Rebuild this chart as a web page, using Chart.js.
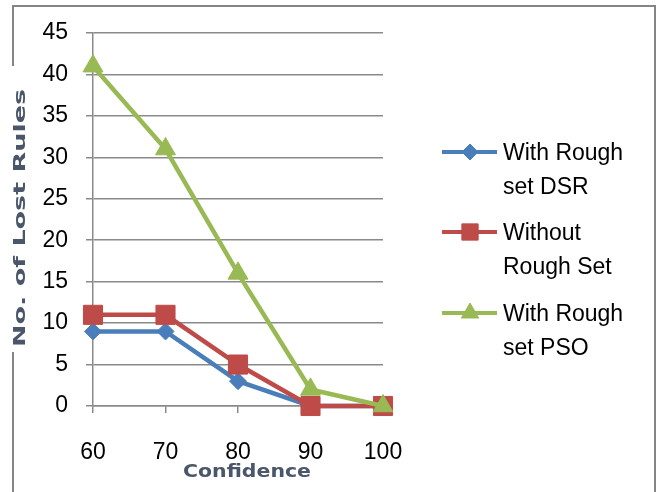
<!DOCTYPE html>
<html><head><meta charset="utf-8">
<script src="https://cdn.jsdelivr.net/npm/chart.js@4/dist/chart.umd.min.js"></script>
<style>html,body{margin:0;padding:0;background:#fff;}#wrap{width:662px;height:492px;}</style>
</head><body><div id="wrap"><canvas id="c" width="662" height="492"></canvas></div>
<script>
const categories = ['60', '70', '80', '90', '100'];
const dsrValues = [9, 9, 3, 0, 0];
const withoutRoughValues = [11, 11, 5, 0, 0];
const psoValues = [41, 31, 16, 2, 0];
const seriesLabels = ['With Rough set DSR', 'Without Rough Set', 'With Rough set PSO'];
const legendLines = [['With Rough', 'set DSR'], ['Without', 'Rough Set'], ['With Rough', 'set PSO']];
const yMin = 0, yMax = 45, yStep = 5;
const xTitle = 'Confidence';
const yTitle = 'No. of Lost Rules';

const BLUE = '#4A7EBB', RED = '#BE4B48', GREEN = '#98B954';
const GRID = '#8a8a8a';

function drawMarker(ctx, style, x, y, r, color) {
  ctx.fillStyle = color; ctx.strokeStyle = color; ctx.lineWidth = 1;
  ctx.beginPath();
  if (style === 'rectRot') {
    ctx.moveTo(x, y - r); ctx.lineTo(x + r, y); ctx.lineTo(x, y + r); ctx.lineTo(x - r, y);
  } else if (style === 'rect') {
    const s = Math.SQRT1_2 * r; ctx.rect(x - s, y - s, 2 * s, 2 * s);
  } else {
    for (let i = 0; i < 3; i++) {
      const a = i * 2 * Math.PI / 3;
      const px = x + Math.sin(a) * r, py = y - Math.cos(a) * r;
      if (i === 0) ctx.moveTo(px, py); else ctx.lineTo(px, py);
    }
  }
  ctx.closePath(); ctx.fill(); ctx.stroke();
}

const decor = {
  id: 'decor',
  beforeDraw(chart) {
    const ctx = chart.ctx;
    ctx.save();
    ctx.fillStyle = '#fff'; ctx.fillRect(0, 0, chart.width, chart.height);
    ctx.strokeStyle = '#858585'; ctx.lineWidth = 2;
    ctx.beginPath();
    ctx.moveTo(13, 66); ctx.lineTo(13, 6); ctx.lineTo(655, 6); ctx.lineTo(655, 492);
    ctx.moveTo(13, 352); ctx.lineTo(13, 492);
    ctx.stroke();
    ctx.restore();
  },
  afterDraw(chart) {
    const ctx = chart.ctx, ca = chart.chartArea;
    ctx.save();
    ctx.fillStyle = '#4a566a';
    ctx.textAlign = 'center'; ctx.textBaseline = 'middle';
    ctx.font = 'bold 17px "DejaVu Sans"';
    let w = ctx.measureText(xTitle).width;
    ctx.save();
    ctx.translate((ca.left + ca.right) / 2 + 9, 473);
    ctx.scale(128 / w, 1);
    ctx.fillText(xTitle, 0, 0);
    ctx.restore();
    ctx.font = 'bold 16px "DejaVu Sans"';
    w = ctx.measureText(yTitle).width;
    ctx.save();
    ctx.translate(21, 218);
    ctx.rotate(-Math.PI / 2);
    ctx.scale(258 / w, 1);
    ctx.fillText(yTitle, 0, 0);
    ctx.restore();
    const ys = [152, 232, 313];
    chart.data.datasets.forEach((ds, i) => {
      const y = ys[i];
      ctx.strokeStyle = ds.borderColor; ctx.lineWidth = 4; ctx.lineCap = 'butt';
      ctx.beginPath(); ctx.moveTo(442, y); ctx.lineTo(497, y); ctx.stroke();
      drawMarker(ctx, ds.pointStyle, 470, y, ds.pointStyle === 'rect' ? 11.5 : (ds.pointStyle === 'triangle' ? 10 : 8), ds.borderColor);
      ctx.fillStyle = '#000'; ctx.textAlign = 'left'; ctx.textBaseline = 'middle';
      ctx.font = '23px "Liberation Sans"';
      legendLines[i].forEach((t, k) => ctx.fillText(t, 503, y + 2 + k * 34));
    });
    ctx.restore();
  }
};

new Chart(document.getElementById('c'), {
  type: 'line',
  data: {
    labels: categories,
    datasets: [
      { label: seriesLabels[0], data: dsrValues, borderColor: BLUE, backgroundColor: BLUE, pointBackgroundColor: BLUE, pointBorderColor: BLUE, pointStyle: 'rectRot', pointRadius: 8.5, borderWidth: 4.5, pointBorderWidth: 1, order: 2, clip: false },
      { label: seriesLabels[1], data: withoutRoughValues, borderColor: RED, backgroundColor: RED, pointBackgroundColor: RED, pointBorderColor: RED, pointStyle: 'rect', pointRadius: 13.5, borderWidth: 4.5, pointBorderWidth: 1, order: 1, clip: false },
      { label: seriesLabels[2], data: psoValues, borderColor: GREEN, backgroundColor: GREEN, pointBackgroundColor: GREEN, pointBorderColor: GREEN, pointStyle: 'triangle', pointRadius: 11.5, borderWidth: 4.5, pointBorderWidth: 1, order: 0, clip: false }
    ]
  },
  options: {
    responsive: false,
    animation: false,
    devicePixelRatio: 1,
    layout: { padding: { left: 0, top: 33, right: 279, bottom: 0 } },
    plugins: { legend: { display: false }, tooltip: { enabled: false } },
    scales: {
      x: {
        offset: false,
        grid: { drawOnChartArea: false, color: GRID, lineWidth: 1.5, tickLength: 7, tickColor: GRID },
        border: { color: GRID, width: 1.5 },
        ticks: { color: '#000', font: { family: 'Liberation Sans', size: 23 }, padding: 26, maxRotation: 0, autoSkip: false },
        afterFit(s) { s.height = 86; }
      },
      y: {
        min: yMin, max: yMax,
        grid: { color: GRID, lineWidth: 1.5, tickLength: 7, tickColor: GRID },
        border: { color: GRID, width: 1.5 },
        ticks: { stepSize: yStep, color: '#000', font: { family: 'Liberation Sans', size: 23 }, padding: 18 },
        afterFit(s) { s.width = 93; }
      }
    }
  },
  plugins: [decor]
});
</script></body></html>
